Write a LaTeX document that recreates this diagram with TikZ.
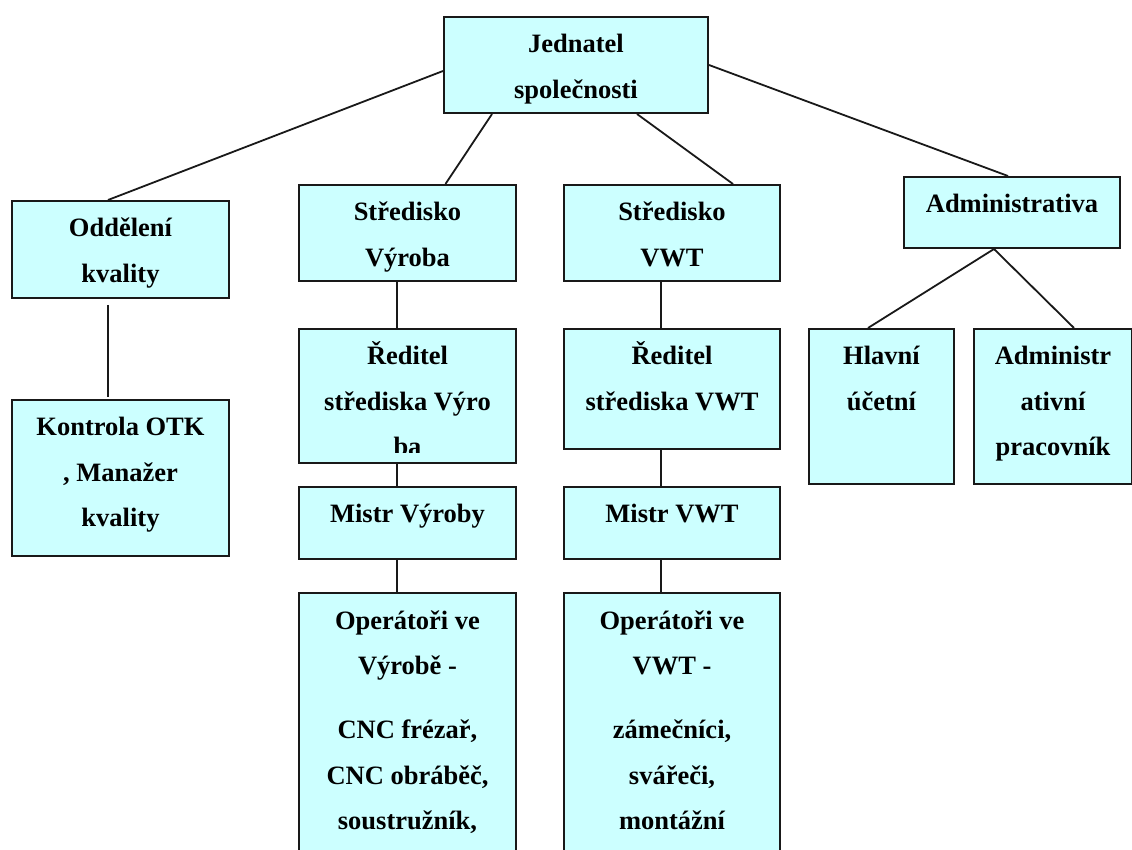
\documentclass[tikz,border=0pt]{standalone}
\usepackage{fontspec}
\setmainfont{Liberation Serif}
\usepackage{xcolor}
\definecolor{colBox}{HTML}{CCFFFF}
\colorlet{colBoxLine}{black!90}
\usepackage{tikz}

\newcommand{\unittext}[3]{\parbox[c][#2][t]{#1}{\centering\fontsize{13.25pt}{22.75pt}\selectfont\bfseries\rule{0pt}{18pt}#3}}

\begin{document}
\begin{tikzpicture}[x=0.5pt, y=-0.5pt,
	unit/.style={draw=colBoxLine, fill=colBox, line width=1pt, inner sep=0pt, anchor=north west},
	link/.style={line width=0.9pt, colBoxLine}]
	\path[use as bounding box, clip] (0,0) rectangle (1132,850);
	% top and first level
	\node[unit] (jed) at (443,16) {\unittext{132pt}{48pt}{Jednatel\\společnosti}};
	\node[unit] (odd) at (11,200) {\unittext{108.5pt}{48.5pt}{Oddělení\\kvality}};
	\node[unit] (svyr) at (298,184) {\unittext{108.5pt}{48pt}{Středisko\\Výroba}};
	\node[unit] (svwt) at (563,184) {\unittext{108pt}{48pt}{Středisko\\VWT}};
	\node[unit] (adm) at (903,176) {\unittext{108pt}{35.5pt}{Administrativa}};
	% lower levels
	\node[unit] (kon) at (11,399) {\unittext{108.5pt}{78pt}{Kontrola OTK\\, Manažer\\kvality}};
	\node[unit] (rvyr) at (298,328) {\unittext{108.5pt}{67pt}{Ředitel\\střediska Výro\\ba}};
	\node[unit] (rvwt) at (563,328) {\unittext{108pt}{60pt}{Ředitel\\střediska VWT}};
	\node[unit] (mvyr) at (298,486) {\unittext{108.5pt}{36pt}{Mistr Výroby}};
	\node[unit] (mvwt) at (563,486) {\unittext{108pt}{36pt}{Mistr VWT}};
	\node[unit] (ovyr) at (298,592) {\unittext{108.5pt}{154pt}{Operátoři ve\\Výrobě -\\[9.5pt]CNC frézař,\\CNC obráběč,\\soustružník,}};
	\node[unit] (ovwt) at (563,592) {\unittext{108pt}{154pt}{Operátoři ve\\VWT -\\[9.5pt]zámečníci,\\svářeči,\\montážní}};
	\node[unit] (hlav) at (808,328) {\unittext{72.5pt}{77.5pt}{Hlavní\\účetní}};
	\node[unit] (admr) at (973,328) {\unittext{79pt}{77.5pt}{Administr\\ativní\\pracovník}};
	% cut-off last line
	\fill[colBox] ([xshift=1pt,yshift=1pt]rvyr.south west) rectangle ([xshift=-1pt,yshift=5.5pt]rvyr.south east);
	% connectors
	\draw[link] ([yshift=-3pt]jed.west) -- ([xshift=-6.25pt]odd.north);
	\draw[link] ([xshift=-42pt]jed.south) -- ([xshift=19pt]svyr.north);
	\draw[link] ([xshift=30.5pt]jed.south) -- ([xshift=30.5pt]svwt.north);
	\draw[link] (jed.east) -- ([xshift=-2pt]adm.north);
	\draw[link] ([xshift=-6.25pt,yshift=-3pt]odd.south) -- ([xshift=-6.25pt,yshift=1pt]kon.north);
	\draw[link] ([xshift=-5.25pt]svyr.south) -- ([xshift=-5.25pt]rvyr.north);
	\draw[link] ([xshift=-5.25pt]rvyr.south) -- ([xshift=-5.25pt]mvyr.north);
	\draw[link] ([xshift=-5.25pt]mvyr.south) -- ([xshift=-5.25pt]ovyr.north);
	\draw[link] ([xshift=-5.5pt]svwt.south) -- ([xshift=-5.5pt]rvwt.north);
	\draw[link] ([xshift=-5.5pt]rvwt.south) -- ([xshift=-5.5pt]mvwt.north);
	\draw[link] ([xshift=-5.5pt]mvwt.south) -- ([xshift=-5.5pt]ovwt.north);
	\draw[link] ([xshift=-9pt]adm.south) -- ([xshift=-6.75pt]hlav.north);
	\draw[link] ([xshift=-9pt]adm.south) -- ([xshift=10.5pt]admr.north);
\end{tikzpicture}
\end{document}
